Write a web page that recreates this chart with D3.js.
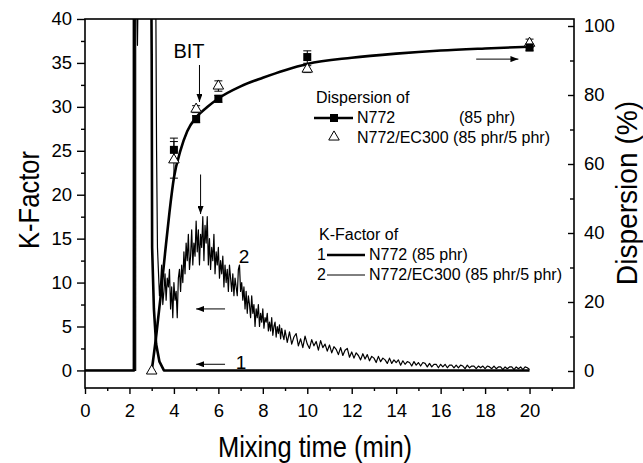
<!DOCTYPE html>
<html>
<head>
<meta charset="utf-8">
<script src="https://cdn.jsdelivr.net/npm/d3@7"></script>
<style>
body { margin: 0; background: #fff; }
svg { font-family: "Liberation Sans", Arial, sans-serif; }
</style>
</head>
<body>
<svg id="chart" width="643" height="463"></svg>
<script>
// K-factor, curve 1: N772 (85 phr)  [time, K]
const k1Time = [0, 2.2, 2.2, 2.98, 3.0, 3.02, 3.1, 3.2, 3.35, 3.55, 20];
const k1Val  = [0, 0, 45, 45, 36, 14, 7, 3, 1, 0, 0];

// K-factor, curve 2: N772/EC300, start-up spike
const k2Time = [0, 2.28, 2.28, 2.33, 2.36, 2.4, 3.18, 3.22, 3.26];
const k2Val  = [0, 0, 45, 45, 37, 45, 45, 25, 14];
// noisy signal: every 0.05 min from 3.3 to 9.0 min
const k2aStart = 3.3, k2aStep = 0.05;
const k2a = [
  11.5, 8.5, 10.0, 12.0, 7.5, 9.0, 11.0, 8.0, 10.5, 9.5,
  11.5, 7.0, 9.5, 6.0, 10.0, 8.0, 9.0, 6.0, 10.5, 11.5,
  9.0, 12.0, 10.0, 13.5, 11.0, 14.5, 12.5, 15.5, 11.5, 13.0,
  16.0, 12.0, 14.5, 13.0, 17.0, 13.5, 16.0, 12.0, 15.5, 14.0,
  17.5, 12.5, 16.5, 14.5, 17.5, 12.0, 15.0, 11.5, 14.0, 12.5,
  15.5, 11.0, 13.5, 12.0, 14.0, 10.5, 12.5, 11.0, 13.0, 9.5,
  12.0, 10.0, 11.5, 9.0, 12.0, 10.5, 9.0, 11.0, 8.5, 10.5,
  9.5, 8.5, 11.5, 12.0, 9.0, 10.0, 8.0, 9.5, 7.0, 9.0,
  6.5, 8.5, 7.5, 6.0, 8.5, 6.5, 7.5, 5.0, 7.0, 6.0,
  7.5, 5.0, 6.5, 5.5, 7.0, 4.8, 6.0, 5.5, 6.5, 4.5,
  5.5, 4.5, 6.0, 4.0, 5.0, 5.5, 3.8, 5.0, 4.2, 5.2,
  3.6, 4.8, 4.0, 3.5, 4.6
];
// ...then every 0.1 min from 9.1 to 20 min
const k2bStart = 9.1, k2bStep = 0.1;
const k2b = [
  3.2, 4.4, 3.0, 3.8, 4.2, 2.8, 3.6, 2.6, 3.9, 3.0,
  2.5, 3.5, 2.8, 3.3, 2.3, 3.4, 2.6, 3.0, 2.2, 2.9,
  2.0, 2.7, 2.4, 1.8, 2.6, 1.7, 2.3, 2.5, 1.5, 2.1,
  1.4, 2.0, 1.7, 1.2, 1.9, 1.3, 1.8, 1.1, 1.6, 1.4,
  0.9, 1.6, 1.0, 1.4, 1.2, 0.8, 1.4, 0.8, 1.2, 0.9,
  1.2, 0.6, 1.1, 0.7, 1.0, 0.9, 0.5, 1.0, 0.6, 0.9,
  0.5, 0.9, 0.8, 0.4, 0.8, 0.4, 0.7, 0.7, 0.3, 0.7,
  0.4, 0.7, 0.3, 0.6, 0.6, 0.3, 0.6, 0.3, 0.6, 0.5,
  0.2, 0.6, 0.3, 0.5, 0.5, 0.2, 0.5, 0.3, 0.5, 0.2,
  0.5, 0.4, 0.2, 0.5, 0.2, 0.4, 0.4, 0.1, 0.4, 0.2,
  0.4, 0.4, 0.1, 0.4, 0.2, 0.4, 0.1, 0.4, 0.3, 0.1
];

// Dispersion (%) measurements
const dispTimeSq  = [4, 5, 6, 10, 20];
const dispSq      = [64.1, 73.0, 78.9, 91.0, 93.8];
const dispSqErr   = [3.4, 1.0, 1.0, 1.8, 1.0];
const dispTimeTri = [3, 4, 5, 6, 10, 20];
const dispTri     = [0, 61.2, 75.9, 82.6, 87.5, 95.0];
const dispTriErr  = [0, 5.3, 1.0, 1.5, 1.0, 1.2];

// fitted dispersion curve
const fitTime = [3.0, 3.2, 3.4, 3.6, 3.8, 4.0, 4.3, 4.6, 5, 5.5, 6, 7, 8, 9, 10, 12, 14, 16, 18, 20];
const fitVal  = [0, 10, 21.5, 34, 46, 56, 64, 69.5, 73.5, 76.5, 79, 82.5, 85, 87.2, 89, 90.8, 92, 92.9, 93.5, 94];

const xTicks = d3.range(0, 21, 2);
const xMinor = d3.range(1, 22, 2);
const kTicks = d3.range(0, 41, 5);
const kMinor = d3.range(2.5, 40, 5);
const dTicks = d3.range(0, 101, 20);
const dMinor = d3.range(10, 100, 20);

const svg = d3.select("#chart");

const x  = d3.scaleLinear().domain([0, 22]).range([85, 574]);
const yK = d3.scaleLinear().domain([-2, 40]).range([388, 19]);
const yD = d3.scaleLinear().domain([-4.93, 102.03]).range([388, 19]);

const defs = svg.append("defs");
defs.append("clipPath").attr("id", "clip")
    .append("rect").attr("x", 85).attr("y", 19).attr("width", 489).attr("height", 369);

defs.append("marker")
    .attr("id", "arr")
    .attr("markerUnits", "userSpaceOnUse")
    .attr("viewBox", "0 0 8 6")
    .attr("refX", 8).attr("refY", 3)
    .attr("markerWidth", 8).attr("markerHeight", 6)
    .attr("orient", "auto")
  .append("path").attr("d", "M0,0L8,3L0,6Z").attr("fill", "#000");

// frame
svg.append("rect")
    .attr("x", 85).attr("y", 19).attr("width", 489).attr("height", 369)
    .attr("fill", "none").attr("stroke", "#000").attr("stroke-width", 1.6);

// axes
function styleAxis(g) {
  g.select(".domain").remove();
  g.selectAll(".tick line").attr("stroke-width", 1.4);
  g.selectAll("text").attr("font-size", 18.5).attr("fill", "#000")
    .attr("font-family", "'Liberation Sans', Arial, sans-serif");
}

svg.append("g").attr("transform", "translate(0,388)")
    .call(d3.axisBottom(x).tickValues(xTicks).tickSize(6).tickPadding(10))
    .call(styleAxis);
svg.append("g").attr("transform", "translate(0,388)")
    .call(d3.axisBottom(x).tickValues(xMinor).tickSize(3).tickFormat(""))
    .call(styleAxis);

svg.append("g").attr("transform", "translate(85,0)")
    .call(d3.axisLeft(yK).tickValues(kTicks).tickSize(8).tickPadding(5))
    .call(styleAxis);
svg.append("g").attr("transform", "translate(85,0)")
    .call(d3.axisLeft(yK).tickValues(kMinor).tickSize(4).tickFormat(""))
    .call(styleAxis);

svg.append("g").attr("transform", "translate(574,0)")
    .call(d3.axisRight(yD).tickValues(dTicks).tickSizeInner(-6).tickSizeOuter(0).tickPadding(10))
    .call(styleAxis);
svg.append("g").attr("transform", "translate(574,0)")
    .call(d3.axisRight(yD).tickValues(dMinor).tickSizeInner(-4).tickSizeOuter(0).tickFormat(""))
    .call(styleAxis);

// axis titles (the original lettering is slightly condensed)
svg.append("text")
    .attr("transform", "translate(39,200) rotate(-90) scale(0.88,1)")
    .attr("text-anchor", "middle").attr("font-size", 29)
    .text("K-Factor");
svg.append("text")
    .attr("transform", "translate(637,193) rotate(-90) scale(0.97,1)")
    .attr("text-anchor", "middle").attr("font-size", 29)
    .text("Dispersion (%)");
svg.append("text")
    .attr("transform", "translate(315,457) scale(0.88,1)")
    .attr("text-anchor", "middle").attr("font-size", 29)
    .text("Mixing time (min)");

// K-factor curves
const plot = svg.append("g").attr("clip-path", "url(#clip)");
const kLine = d3.line().x(d => x(d[0])).y(d => yK(d[1]));

const k1 = k1Time.map((t, i) => [t, k1Val[i]]);
const k2 = k2Time.map((t, i) => [t, k2Val[i]])
    .concat(k2a.map((v, i) => [k2aStart + i * k2aStep, v]))
    .concat(k2b.map((v, i) => [k2bStart + i * k2bStep, v]));

plot.append("path").datum(k2).attr("d", kLine)
    .attr("fill", "none").attr("stroke", "#000").attr("stroke-width", 1.2)
    .attr("stroke-linejoin", "round");
plot.append("path").datum(k1).attr("d", kLine)
    .attr("fill", "none").attr("stroke", "#000").attr("stroke-width", 2.6)
    .attr("stroke-linejoin", "round");

// dispersion fit
const fit = fitTime.map((t, i) => [t, fitVal[i]]);
plot.append("path").datum(fit)
    .attr("d", d3.line().curve(d3.curveMonotoneX).x(d => x(d[0])).y(d => yD(d[1])))
    .attr("fill", "none").attr("stroke", "#000").attr("stroke-width", 2.6);

// error bars
function errBars(times, vals, errs) {
  const g = svg.append("g").attr("stroke", "#000").attr("stroke-width", 1);
  times.forEach((t, i) => {
    if (!errs[i]) return;
    const cx = x(t), y0 = yD(vals[i] - errs[i]), y1 = yD(vals[i] + errs[i]);
    g.append("line").attr("x1", cx).attr("x2", cx).attr("y1", y0).attr("y2", y1);
    g.append("line").attr("x1", cx - 4).attr("x2", cx + 4).attr("y1", y0).attr("y2", y0);
    g.append("line").attr("x1", cx - 4).attr("x2", cx + 4).attr("y1", y1).attr("y2", y1);
  });
}
errBars(dispTimeTri, dispTri, dispTriErr);
errBars(dispTimeSq, dispSq, dispSqErr);

const tri = d3.symbol().type(d3.symbolTriangle).size(48);
svg.append("g").selectAll("path")
    .data(dispTimeTri.map((t, i) => [t, dispTri[i]]))
    .join("path")
    .attr("transform", d => `translate(${x(d[0])},${yD(d[1])})`)
    .attr("d", tri)
    .attr("fill", "#fff").attr("stroke", "#000").attr("stroke-width", 1);

svg.append("g").selectAll("rect")
    .data(dispTimeSq.map((t, i) => [t, dispSq[i]]))
    .join("rect")
    .attr("x", d => x(d[0]) - 4).attr("y", d => yD(d[1]) - 4)
    .attr("width", 8).attr("height", 8)
    .attr("fill", "#000");

// annotations
const ann = svg.append("g").attr("stroke", "#000").attr("stroke-width", 1);
function arrowLine(x1, y1, x2, y2) {
  ann.append("line").attr("x1", x1).attr("y1", y1).attr("x2", x2).attr("y2", y2)
      .attr("marker-end", "url(#arr)");
}
arrowLine(x(5.15), yD(88.7), x(5.15), yD(78));     // BIT
arrowLine(x(5.2), yK(22.3), x(5.2), yK(17.8));     // peak
arrowLine(x(6.3), yK(7), x(5.0), yK(7));           // curve 2 -> left axis
arrowLine(x(6.3), yK(0.7), x(5.0), yK(0.7));       // curve 1 -> left axis
arrowLine(x(17.6), yD(90.4), x(19.5), yD(90.4));   // dispersion -> right axis

svg.append("text").attr("x", 189).attr("y", 58).attr("text-anchor", "middle")
    .attr("font-size", 20).text("BIT");
svg.append("text").attr("x", 244).attr("y", 263).attr("text-anchor", "middle")
    .attr("font-size", 19).text("2");
svg.append("text").attr("x", 241).attr("y", 369).attr("text-anchor", "middle")
    .attr("font-size", 19).text("1");

// legend: dispersion
const lg1 = svg.append("g").attr("font-size", 16);
lg1.append("text").attr("x", 316).attr("y", 103).text("Dispersion of");
lg1.append("line").attr("x1", 314).attr("x2", 353).attr("y1", 118).attr("y2", 118)
    .attr("stroke", "#000").attr("stroke-width", 2.4);
lg1.append("rect").attr("x", 330).attr("y", 114).attr("width", 8).attr("height", 8).attr("fill", "#000");
lg1.append("text").attr("x", 357).attr("y", 123).text("N772");
lg1.append("text").attr("x", 459).attr("y", 123).text("(85 phr)");
lg1.append("path").attr("transform", "translate(334,137)").attr("d", tri)
    .attr("fill", "#fff").attr("stroke", "#000");
lg1.append("text").attr("x", 357).attr("y", 143).text("N772/EC300 (85 phr/5 phr)");

// legend: K-factor
const lg2 = svg.append("g").attr("font-size", 16);
lg2.append("text").attr("x", 319).attr("y", 240).text("K-Factor of");
lg2.append("text").attr("x", 317).attr("y", 260).text("1");
lg2.append("line").attr("x1", 327).attr("x2", 365).attr("y1", 255).attr("y2", 255)
    .attr("stroke", "#000").attr("stroke-width", 2.4);
lg2.append("text").attr("x", 369).attr("y", 260).text("N772 (85 phr)");
lg2.append("text").attr("x", 317).attr("y", 280).text("2");
lg2.append("line").attr("x1", 327).attr("x2", 365).attr("y1", 275).attr("y2", 275)
    .attr("stroke", "#000").attr("stroke-width", 1);
lg2.append("text").attr("x", 369).attr("y", 280).text("N772/EC300  (85 phr/5 phr)");
</script>
</body>
</html>
